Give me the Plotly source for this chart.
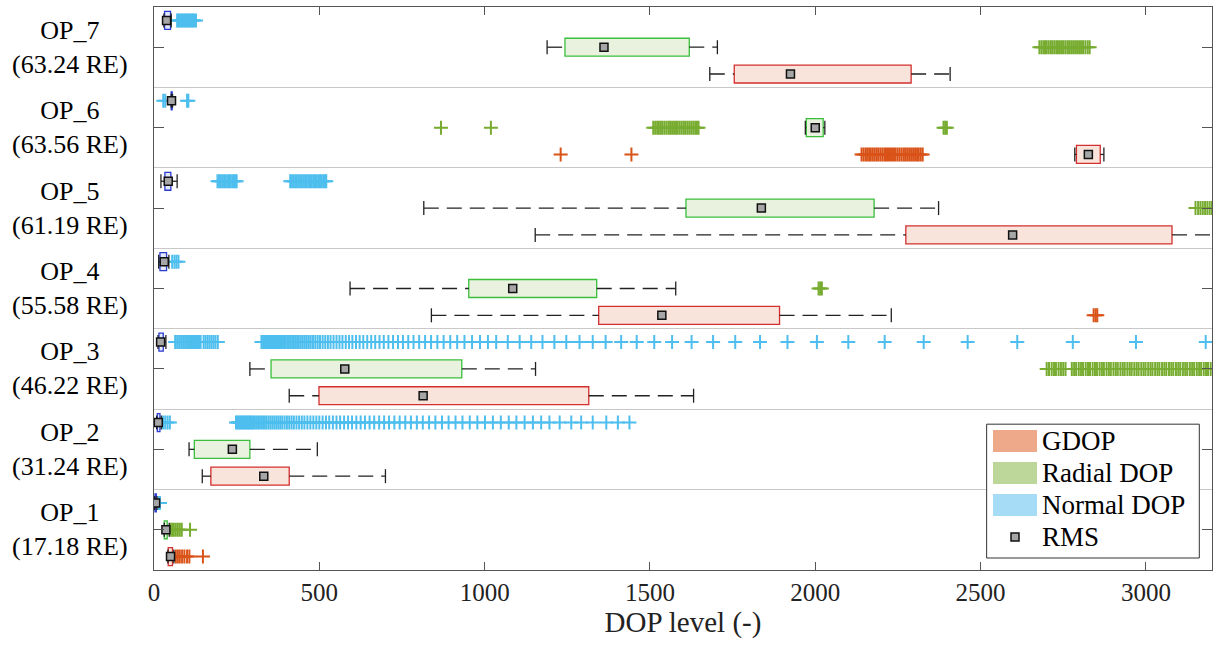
import plotly.graph_objects as go

# ---------------- data ----------------
op_labels = ["OP_1", "OP_2", "OP_3", "OP_4", "OP_5", "OP_6", "OP_7"]
op_re = ["(17.18 RE)", "(31.24 RE)", "(46.22 RE)", "(55.58 RE)", "(61.19 RE)", "(63.56 RE)", "(63.24 RE)"]
x_ticks = [0, 500, 1000, 1500, 2000, 2500, 3000]

# GDOP box statistics (OP_1 ... OP_7)
gdop_lw = [42, 146, 409, 839, 1153, 2785, 1681]
gdop_q1 = [43, 172, 499, 1345, 2274, 2790, 1755]
gdop_q3 = [56, 409, 1315, 1892, 3079, 2862, 2290]
gdop_uw = [60, 700, 1632, 2230, 3500, 2873, 2408]
gdop_rms = [50, 332, 814, 1536, 2597, 2826, 1925]
gdop_out = [
    [66, 72, 78, 85, 92, 100, 107, 148],
    [],
    [],
    [2842, 2848, 2853],
    [],
    [1230, 1444, 2140, 2146, 2152, 2157, 2163, 2168, 2174, 2180, 2186, 2191, 2197, 2203,
     2209, 2214, 2220, 2226, 2232, 2238, 2243, 2249, 2255, 2261, 2267, 2272, 2278, 2284,
     2290, 2296, 2302, 2308, 2313, 2319, 2325],
    [],
]

# Radial DOP
rad_lw = [31, 106, 290, 593, 816, 1970, 1189]
rad_q1 = [31, 122, 354, 952, 1609, 1973, 1243]
rad_q3 = [40, 290, 931, 1339, 2178, 2024, 1619]
rad_uw = [46, 494, 1154, 1578, 2373, 2029, 1704]
rad_rms = [36, 237, 577, 1085, 1837, 2000, 1361]
rad_out = [
    [50, 55, 60, 66, 72, 78, 84, 109],
    [],
    [2700, 2707, 2715, 2722, 2728, 2736, 2743, 2750, 2757,
     2776, 2783, 2789, 2797, 2804, 2810, 2818, 2825, 2831, 2839, 2846, 2852, 2860, 2867,
     2873, 2881, 2888, 2894, 2902, 2909, 2915, 2923, 2930, 2936, 2944, 2951, 2957, 2965,
     2972, 2978, 2986, 2993, 2999, 3007, 3014, 3020, 3028, 3035, 3041, 3049, 3056, 3062,
     3070, 3077, 3083, 3091, 3098, 3104, 3112, 3119, 3125, 3133, 3140, 3146, 3154, 3161,
     3167, 3175, 3182, 3188, 3196],
    [2010, 2015, 2020],
    [3150, 3158, 3165, 3172, 3179, 3186, 3193, 3200, 3210],
    [868, 1019, 1510, 1516, 1522, 1527, 1533, 1538, 1544, 1550, 1556, 1561, 1567, 1573,
     1579, 1584, 1590, 1596, 1602, 1607, 1613, 1619, 1625, 1631, 1637, 1642, 1647,
     2388, 2393, 2398],
    [2678, 2684, 2690, 2695, 2700, 2706, 2712, 2717, 2723, 2729, 2734, 2740, 2746, 2751,
     2757, 2763, 2768, 2774, 2780, 2786, 2792, 2798, 2804, 2810, 2817, 2824, 2830],
]

# Normal DOP
nor_lw = [2, 8, 12, 14, 21, 52, 30]
nor_q1 = [3, 10, 15, 18, 33, 52, 32]
nor_q3 = [7, 18, 28, 38, 51, 55, 50]
nor_uw = [9, 22, 36, 45, 70, 56, 52]
nor_rms = [5, 13, 20, 31, 43, 53, 38]
nor_out = [
    [14, 18],
    [27, 34, 41, 48,
     248, 252, 256, 260, 264, 268, 272, 276, 280, 284, 288, 292, 296, 300, 305, 310, 315,
     320, 325, 330, 335, 340, 346, 352, 358, 364, 370, 376, 382, 388, 395, 402, 409, 416,
     423, 431, 439, 447, 455, 464, 473, 482, 491, 500, 510, 520, 530, 541, 552, 563, 575,
     587, 599, 612, 625, 638, 652, 666, 681, 696, 711, 727, 743, 760, 777, 795, 813, 832,
     851, 871, 891, 912, 933, 955, 978, 1001, 1025, 1049, 1073, 1096, 1121, 1146, 1171,
     1196, 1227, 1262, 1292, 1327, 1368, 1403, 1438],
    [64, 70, 76, 82, 88, 94, 100, 106, 112, 118, 124, 130, 136, 141, 150, 156, 162, 168,
     174, 180, 186, 193,
     325, 330, 334, 338, 342, 346, 350, 354, 358, 362, 366, 370, 374, 378, 382, 386, 390,
     394, 398, 403, 408, 413, 418, 423, 428, 433, 438, 444, 450, 456, 462, 468, 474, 481,
     488, 495, 502, 510, 518, 526, 534, 543, 552, 561, 570, 580, 590, 600, 611, 622, 633,
     645, 657, 669, 682, 695, 709, 723, 738, 753, 769, 785, 802, 820, 838, 857, 876, 896,
     917, 939, 962, 986, 1010, 1035, 1070, 1106, 1141, 1175, 1211, 1247, 1287, 1327, 1366,
     1413, 1460, 1513, 1567, 1626, 1691, 1758, 1833, 1916, 2005, 2100, 2210, 2328, 2461,
     2611, 2779, 2970, 3181],
    [55, 62, 68, 74],
    [192, 197, 202, 207, 212, 217, 222, 227, 232, 237, 242, 246, 250,
     412, 417, 422, 427, 432, 437, 442, 447, 452, 457, 462, 467, 472, 477, 482, 487, 492,
     497, 502, 507, 512, 517, 521],
    [28, 34, 100, 104],
    [70, 74, 78, 82, 86, 90, 94, 98, 102, 106, 110, 114, 118, 122, 127],
]

# ---------------- styles ----------------
FONT = "Liberation Serif, 'Times New Roman', 'DejaVu Serif', serif"
metrics = [
    # name, row offset inside group, fill, edge, outlier colour
    ("GDOP", 0.5, gdop_lw, gdop_q1, gdop_q3, gdop_uw, gdop_rms, gdop_out,
     "#f9e4dc", "#d32f2f", "#d95319"),
    ("Radial DOP", 1.5, rad_lw, rad_q1, rad_q3, rad_uw, rad_rms, rad_out,
     "#e8f2df", "#3bbf3b", "#77ac30"),
    ("Normal DOP", 2.5, nor_lw, nor_q1, nor_q3, nor_uw, nor_rms, nor_out,
     "#e3e9fb", "#2a3bd0", "#4dbeee"),
]
BOX_W = 0.67

fig = go.Figure()

# outliers first (underneath)
for name, off, lw, q1, q3, uw, rms, outs, fill, edge, ocol in metrics:
    ox, oy = [], []
    for i, vals in enumerate(outs):
        for v in vals:
            ox.append(v)
            oy.append(3 * i + off)
    fig.add_trace(go.Scatter(
        x=ox, y=oy, mode="markers", showlegend=False, hoverinfo="skip",
        marker=dict(symbol="cross-thin", size=10, color=ocol,
                    line=dict(color=ocol, width=2)),
    ))

# boxes, whiskers, caps
for name, off, lw, q1, q3, uw, rms, outs, fill, edge, ocol in metrics:
    ys = [3 * i + off for i in range(len(op_labels))]
    fig.add_trace(go.Bar(
        orientation="h", y=ys, base=q1, x=[b - a for a, b in zip(q1, q3)],
        width=BOX_W, marker=dict(color=fill, line=dict(color=edge, width=1.3)),
        showlegend=False, hoverinfo="skip",
    ))
    wx, wy = [], []
    for i in range(len(ys)):
        wx += [lw[i], q1[i], None, q3[i], uw[i], None]
        wy += [ys[i], ys[i], None, ys[i], ys[i], None]
    fig.add_trace(go.Scatter(
        x=wx, y=wy, mode="lines", showlegend=False, hoverinfo="skip",
        line=dict(color="#222222", width=1.3, dash="15px,8px"),
    ))
    fig.add_trace(go.Scatter(
        x=lw + uw, y=ys + ys, mode="markers", showlegend=False, hoverinfo="skip",
        marker=dict(symbol="line-ns", size=10, line=dict(color="#222222", width=1.3)),
    ))

# RMS markers
for name, off, lw, q1, q3, uw, rms, outs, fill, edge, ocol in metrics:
    ys = [3 * i + off for i in range(len(op_labels))]
    fig.add_trace(go.Scatter(
        x=rms, y=ys, mode="markers", showlegend=False, hoverinfo="skip",
        marker=dict(symbol="square", size=8, color="#a6a6a6",
                    line=dict(color="#111111", width=1.5)),
    ))

# y labels (centred two-line text)
annotations = []
for i, (lab, re) in enumerate(zip(op_labels, op_re)):
    annotations.append(dict(
        x=-0.023, xref="paper", y=3 * i + 1.5, yref="y", xanchor="right", yanchor="middle",
        align="center", showarrow=False, text=lab + "<br>" + re,
        font=dict(family=FONT, size=26, color="black"),
    ))

# manual legend
shapes = []
lx0, lx1 = 0.787, 0.988
ly0, ly1 = 0.0213, 0.259
shapes.append(dict(type="rect", xref="paper", yref="paper", x0=lx0, x1=lx1, y0=ly0, y1=ly1,
                   line=dict(color="#333333", width=1), fillcolor="white", layer="above"))
leg_items = [("GDOP", "#eda98a"), ("Radial DOP", "#bdd79a"), ("Normal DOP", "#a6dcf5")]
ph = 563.0
pw = 1058.0
row_y = [441, 473, 505, 537]
for (txt, col), py in zip(leg_items, row_y):
    yc = (570 - py) / ph
    shapes.append(dict(type="rect", xref="paper", yref="paper",
                       x0=(993 - 154) / pw, x1=(1037 - 154) / pw,
                       y0=yc - 11 / ph, y1=yc + 11 / ph,
                       line=dict(width=0), fillcolor=col, layer="above"))
    annotations.append(dict(x=(1040 - 154) / pw, y=yc, xref="paper", yref="paper",
                            xanchor="left", yanchor="middle", showarrow=False, text=txt,
                            font=dict(family=FONT, size=27, color="black")))
yc = (570 - row_y[3]) / ph
shapes.append(dict(type="rect", xref="paper", yref="paper",
                   x0=(1011 - 154) / pw, x1=(1019 - 154) / pw,
                   y0=yc - 4 / ph, y1=yc + 4 / ph,
                   line=dict(color="#111111", width=1.5), fillcolor="#a6a6a6", layer="above"))
annotations.append(dict(x=(1040 - 154) / pw, y=yc, xref="paper", yref="paper",
                        xanchor="left", yanchor="middle", showarrow=False, text="RMS",
                        font=dict(family=FONT, size=27, color="black")))

fig.update_layout(
    width=1214, height=647,
    margin=dict(l=154, r=2, t=7, b=77),
    paper_bgcolor="white", plot_bgcolor="white",
    barmode="overlay", showlegend=False,
    font=dict(family=FONT, size=25, color="black"),
    annotations=annotations, shapes=shapes,
)
fig.update_xaxes(
    range=[0, 3200], tickvals=x_ticks, ticktext=[str(t) for t in x_ticks],
    ticks="inside", ticklen=8, tickcolor="#555555", tickwidth=1.2,
    showline=True, linecolor="#555555", linewidth=1.2, mirror="ticks",
    showgrid=False, zeroline=False,
    tickfont=dict(family=FONT, size=25, color="#222222"),
    title=dict(text="DOP level (-)", font=dict(family=FONT, size=29, color="#222222"), standoff=4),
)
fig.update_yaxes(
    range=[0, 21], tickvals=[3 * i + 1.5 for i in range(len(op_labels))],
    ticktext=["" for _ in op_labels],
    ticks="inside", ticklen=10, tickcolor="#555555", tickwidth=1.2,
    showline=True, linecolor="#555555", linewidth=1.2, mirror="ticks",
    showgrid=False, zeroline=False,
    minor=dict(tick0=0, dtick=3, showgrid=True, gridcolor="#c8c8c8", gridwidth=1, ticks=""),
)

fig.write_html(
    "out.html",
    config={"displayModeBar": False},
    post_script="document.body.style.margin='0px';document.body.style.overflow='hidden';",
)
